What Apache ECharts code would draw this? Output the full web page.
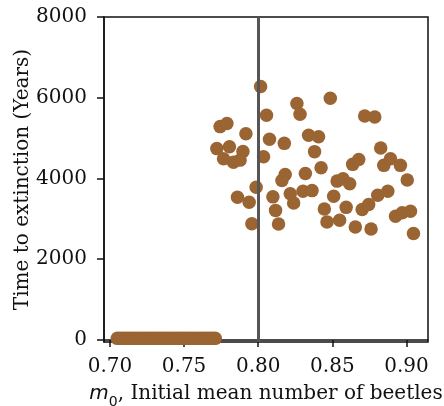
<!DOCTYPE html>
<html>
<head>
<meta charset="utf-8">
<script src="https://cdn.jsdelivr.net/npm/echarts@6/dist/echarts.min.js"></script>
<style>
  html, body { margin: 0; padding: 0; background: #fff; }
  #myChart { width: 444px; height: 406px; }
</style>
</head>
<body>
<div id="myChart"></div>
<script>
// runs that survived: initial mean m0 and years to extinction
var xSurvive = [0.8016, 0.8261, 0.8282, 0.8056, 0.7743, 0.7789, 0.7917, 0.8340, 0.8407, 0.8076,
                0.8176, 0.7721, 0.7806, 0.7897, 0.8380, 0.7766, 0.7833, 0.7878, 0.8036, 0.8486,
                0.8718, 0.8786, 0.8826, 0.8637, 0.8678, 0.8847, 0.8892, 0.8959, 0.8318, 0.8424,
                0.8532, 0.8572, 0.8617, 0.9005, 0.8182, 0.8160, 0.7986, 0.7860, 0.7939, 0.8099,
                0.8216, 0.8239, 0.8302, 0.8363, 0.8117, 0.7957, 0.8137, 0.8509, 0.8446, 0.8593,
                0.8701, 0.8745, 0.8806, 0.8874, 0.8464, 0.8549, 0.8655, 0.8761, 0.8926, 0.8971,
                0.9027, 0.9047];
var ySurvive = [6280, 5855, 5590, 5565, 5285, 5360, 5110, 5070, 5035, 4970,
                4870, 4740, 4785, 4670, 4665, 4490, 4405, 4455, 4540, 5990,
                5550, 5525, 4755, 4350, 4470, 4325, 4490, 4325, 4125, 4265,
                3935, 3995, 3870, 3965, 4100, 3950, 3785, 3535, 3410, 3545,
                3620, 3395, 3685, 3700, 3210, 2880, 2875, 3560, 3245, 3285,
                3230, 3355, 3585, 3685, 2925, 2965, 2800, 2750, 3065, 3150,
                3190, 2635];

// runs that died out almost at once
var xQuick = [0.705, 0.707, 0.709, 0.711, 0.713, 0.715, 0.717, 0.719, 0.721, 0.723,
              0.725, 0.727, 0.729, 0.731, 0.733, 0.735, 0.737, 0.739, 0.741, 0.743,
              0.745, 0.747, 0.749, 0.751, 0.753, 0.755, 0.757, 0.759, 0.761, 0.763,
              0.765, 0.767, 0.769, 0.771];
var yQuick = [40, 40, 40, 40, 40, 40, 40, 40, 40, 40,
              40, 40, 40, 40, 40, 40, 40, 40, 40, 40,
              40, 40, 40, 40, 40, 40, 40, 40, 40, 40,
              40, 40, 40, 40];

var xTicks = [0.70, 0.75, 0.80, 0.85, 0.90];
var yTicks = [0, 2000, 4000, 6000, 8000];
var threshold = 0.80;

var points = [];
for (var i = 0; i < xQuick.length; i++) points.push([xQuick[i], yQuick[i]]);
for (var j = 0; j < xSurvive.length; j++) points.push([xSurvive[j], ySurvive[j]]);

var font = 'DejaVu Serif';
var ink = '#111';

var option = {
    animation: false,
    grid: {
        left: 104, right: 16, top: 17, bottom: 64,
        containLabel: false, outerBoundsMode: 'none',
        show: true, borderColor: ink, borderWidth: 1.5, backgroundColor: 'transparent'
    },
    xAxis: {
        type: 'value',
        min: 0.696, max: 0.9145,
        axisLine: {show: true, lineStyle: {color: ink, width: 1.5}},
        axisTick: {show: true, inside: false, length: 7, lineStyle: {color: ink, width: 1.5}, customValues: xTicks},
        axisLabel: {
            customValues: xTicks, margin: 15, color: ink, fontFamily: font, fontSize: 20,
            formatter: function (v) { return v.toFixed(2); }
        },
        splitLine: {show: false},
        name: '{m|m}{s|0}, Initial mean number of beetles',
        nameLocation: 'middle',
        nameGap: 42,
        nameMoveOverlap: false,
        nameTextStyle: {
            color: ink, fontFamily: font, fontSize: 20,
            rich: {
                m: {fontFamily: 'DejaVu Sans', fontStyle: 'italic', fontSize: 20, color: ink},
                s: {fontFamily: 'DejaVu Sans', fontSize: 14, color: ink, verticalAlign: 'bottom', padding: [0, 0, -5, 0]}
            }
        }
    },
    yAxis: {
        type: 'value',
        min: -50, max: 8000,
        axisLine: {show: true, lineStyle: {color: ink, width: 1.5}},
        axisTick: {show: true, inside: false, length: 7, lineStyle: {color: ink, width: 1.5}, customValues: yTicks},
        axisLabel: {
            customValues: yTicks, margin: 17, color: ink, fontFamily: font, fontSize: 20,
            formatter: function (v) { return String(v); }
        },
        splitLine: {show: false},
        name: 'Time to extinction (Years)',
        nameLocation: 'middle',
        nameGap: 71,
        nameMoveOverlap: false,
        nameTextStyle: {color: ink, fontFamily: font, fontSize: 20}
    },
    series: [{
        type: 'scatter',
        data: points,
        symbolSize: 13.5,
        clip: true,
        itemStyle: {color: '#9a6433', opacity: 1},
        markLine: {
            silent: true,
            symbol: ['none', 'none'],
            label: {show: false},
            lineStyle: {color: '#555', width: 3, type: 'solid'},
            data: [{xAxis: threshold}]
        }
    }]
};

var myChart = echarts.init(document.getElementById('myChart'));
myChart.setOption(option);
</script>
</body>
</html>
